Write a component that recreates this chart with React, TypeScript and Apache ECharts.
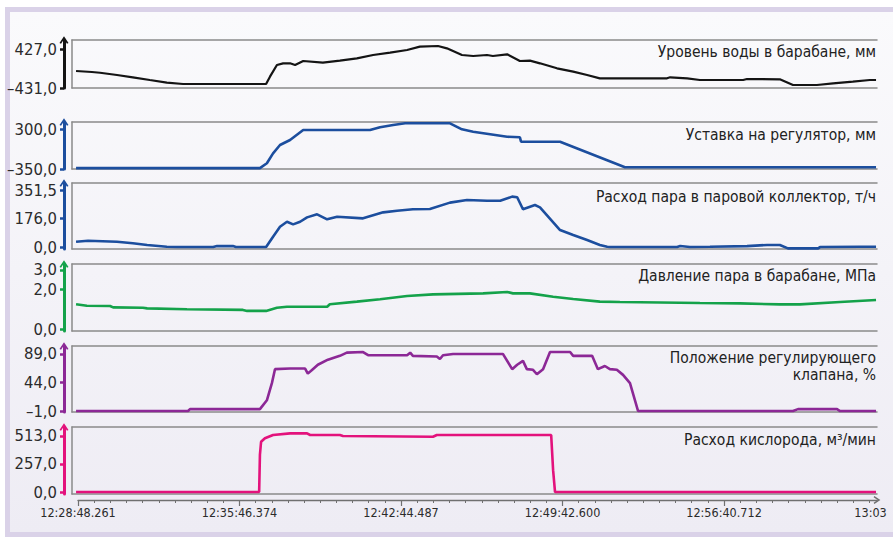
import React, { useEffect, useRef } from "react";
import * as echarts from "echarts";

// ---- x axis tick labels (time) ----
const timeLabels = ["12:28:48.261", "12:35:46.374", "12:42:44.487", "12:49:42.600", "12:56:40.712", "13:03"];

// ---- panel titles ----
const titles = [
  "Уровень воды в барабане, мм",
  "Уставка на регулятор, мм",
  "Расход пара в паровой коллектор, т/ч",
  "Давление пара в барабане, МПа",
  "Положение регулирующего\nклапана, %",
  "Расход кислорода, м³/мин",
];

// ---- y tick labels per panel ----
const yTicks = [
  [-431, 427],
  [-350, 300],
  [0, 176, 351.5],
  [0, 2, 3],
  [-1, 44, 89],
  [0, 257, 513],
];

// ---- series data: [seconds after 12:28:48.261, value] ----
const waterLevel: [number, number][] = [
  [-5, -57], [36, -79], [57, -95], [101, -145], [142, -196], [186, -255], [230, -313], [272, -343],
  [487, -343], [497, -182], [515, 75], [531, 112], [549, 112], [562, 75], [583, 163], [634, 126],
  [678, 170], [722, 222], [764, 295], [808, 346], [852, 405], [885, 478], [932, 493], [955, 442],
  [994, 295], [1023, 273], [1059, 295], [1074, 273], [1111, 310], [1144, 163], [1170, 170], [1196, 112],
  [1240, 2], [1282, -72], [1318, -145], [1351, -218], [1525, -218], [1533, -196], [1577, -218],
  [1610, -255], [1722, -255], [1732, -233], [1817, -240], [1851, -365], [1913, -365], [1955, -328],
  [2006, -292], [2050, -255], [2066, -255],
];

const setpoint: [number, number][] = [
  [-5, -335], [471, -335], [489, -257], [505, -95], [523, 40], [549, 121], [583, 284], [756, 284],
  [782, 328], [816, 365], [847, 393], [963, 393], [994, 295], [1023, 256], [1111, 175], [1144, 165],
  [1147, 94], [1248, 94], [1416, -322], [2066, -322],
];

const steamFlow: [number, number][] = [
  [-5, 33], [26, 39], [101, 33], [142, 23], [179, 13], [230, 2], [256, 0], [350, 0], [360, 6], [401, 6],
  [409, 0], [487, 0], [505, 64], [523, 125], [541, 156], [557, 140], [575, 156], [593, 183], [619, 202],
  [645, 171], [671, 187], [738, 177], [790, 214], [826, 224], [867, 233], [911, 235], [963, 274],
  [1007, 290], [1059, 286], [1093, 286], [1124, 311], [1137, 307], [1152, 233], [1183, 259], [1196, 245],
  [1248, 105], [1282, 74], [1318, 43], [1351, 13], [1370, 2], [1377, 0], [1551, 0], [1559, 6], [1584, 0],
  [1636, 2], [1732, 6], [1784, 13], [1817, 13], [1838, -8], [1916, -8], [1921, 0], [2025, 2], [2066, 2],
];

const drumPressure: [number, number][] = [
  [-5, 1.26], [23, 1.18], [83, 1.17], [91, 1.1], [168, 1.08], [179, 1.05], [282, 1.0], [427, 0.97],
  [438, 0.92], [487, 0.92], [515, 1.08], [541, 1.13], [645, 1.13], [652, 1.26], [722, 1.39], [782, 1.51],
  [852, 1.68], [919, 1.76], [1049, 1.81], [1111, 1.88], [1126, 1.81], [1170, 1.81], [1230, 1.64],
  [1282, 1.52], [1351, 1.39], [1403, 1.37], [1507, 1.35], [1610, 1.32], [1714, 1.3], [1817, 1.25],
  [1869, 1.25], [1973, 1.37], [2066, 1.47],
];

const valvePosition: [number, number][] = [
  [-5, -1], [285, -1], [290, 2], [471, 2], [489, 16], [502, 43], [510, 65], [549, 66], [588, 66],
  [595, 58], [608, 65], [621, 72], [647, 80], [678, 86], [696, 91], [738, 92], [751, 87], [852, 87],
  [860, 91], [867, 86], [929, 85], [937, 81], [945, 87], [971, 89], [1100, 89], [1124, 65], [1137, 72],
  [1152, 78], [1162, 65], [1178, 64], [1188, 57], [1204, 65], [1222, 92], [1274, 92], [1282, 86],
  [1331, 86], [1346, 65], [1364, 70], [1377, 65], [1395, 64], [1411, 56], [1429, 43], [1450, -1],
  [1851, -1], [1864, 2], [1965, 2], [1973, -1], [2066, -1],
];

const oxygenFlow: [number, number][] = [
  [-5, 0], [469, 0], [471, 340], [474, 460], [484, 492], [505, 522], [549, 537], [593, 537], [601, 522],
  [678, 522], [686, 513], [919, 506], [929, 522], [1225, 522], [1230, 200], [1235, 0], [2066, 0],
];

const seriesData = [waterLevel, setpoint, steamFlow, drumPressure, valvePosition, oxygenFlow];

// ---- styling / layout (kept apart from data) ----
const colors = ["#141414", "#1c4e9e", "#1c4e9e", "#14a24a", "#8c2896", "#e3127c"];
const yExtents = [
  [-431, 625],
  [-350, 414],
  [-12, 395],
  [-0.1, 3.3],
  [-2.5, 101.5],
  [-18, 595],
];
const panelTops = [40, 122, 183, 264, 346, 427];
const panelHeights = [48, 47, 66, 67, 66, 67];
const titleY = [52, 135, 197, 276, 366, 440];

const FONT = '"Liberation Sans Narrow", "DejaVu Sans Condensed", "Arial Narrow", sans-serif';
const BORDER = "#8a8a8a";
const ARROW = "path://M5,0 L10,7.5 L8.3,8.5 L5,3.5 L1.7,8.5 L0,7.5 Z";

function parseTime(s: string): number {
  const [hh, mm, ss] = s.split(":");
  return Number(hh) * 3600 + Number(mm) * 60 + (ss ? Number(ss) : 0);
}
const T0 = parseTime(timeLabels[0]);
const labelValues = timeLabels.map((l) => parseTime(l) - T0);
const majorStep = labelValues[1] - labelValues[0];
const X_MIN = -15.5;
const X_MAX = 2068.5;

function fmtNum(v: number) {
  const s = Math.abs(v).toFixed(1).replace(".", ",");
  return v < 0 ? "–" + s : s;
}

function buildOption() {
  const grid: any[] = [];
  const xAxis: any[] = [];
  const yAxis: any[] = [];
  const series: any[] = [];
  const hiddenBits = {
    axisTick: { show: false },
    axisLabel: { show: false },
    splitLine: { show: false },
  };

  seriesData.forEach((data, i) => {
    grid.push({ left: 72, right: 16, top: panelTops[i], height: panelHeights[i] });
    xAxis.push({
      type: "value", gridIndex: i, min: X_MIN, max: X_MAX, position: "bottom",
      axisLine: { show: true, onZero: false, lineStyle: { color: BORDER, width: 1.5 } },
      ...hiddenBits,
    });
    xAxis.push({
      type: "value", gridIndex: i, min: 0, max: 1, position: "top",
      axisLine: { show: true, onZero: false, lineStyle: { color: BORDER, width: 1.5 } },
      ...hiddenBits,
    });
    yAxis.push({
      type: "value", gridIndex: i, min: yExtents[i][0], max: yExtents[i][1], position: "left", offset: 8,
      axisLine: {
        show: true, onZero: false, symbol: ["none", ARROW], symbolSize: [9, 8],
        lineStyle: { color: colors[i], width: 3 },
      },
      axisTick: {
        show: true, inside: false, length: 4, customValues: yTicks[i],
        lineStyle: { color: colors[i], width: 2.5 },
      },
      axisLabel: {
        show: true, customValues: yTicks[i], formatter: fmtNum, margin: 7,
        color: "#2b2b2b", fontSize: 16.5, fontFamily: FONT,
      },
      splitLine: { show: false },
    });
    yAxis.push({
      type: "value", gridIndex: i, min: 0, max: 1, position: "left", offset: 0,
      axisLine: { show: true, onZero: false, lineStyle: { color: BORDER, width: 1.5 } },
      ...hiddenBits,
    });
    series.push({
      type: "line", xAxisIndex: 2 * i, yAxisIndex: 2 * i, data,
      showSymbol: false, symbol: "none", z: 3,
      lineStyle: { color: colors[i], width: i === 0 ? 2.2 : 2.6 },
    });
  });

  // time axis (minor ticks + line)
  const minorTicks: number[] = [];
  for (let v = 0; v <= X_MAX; v += majorStep / 10) minorTicks.push(v);
  const majorTicks = labelValues.slice(0, 5);

  grid.push({ left: 78, right: 16, top: 499, height: 1 });
  grid.push({ left: 78, right: 16, top: 499, height: 1 });
  xAxis.push({
    type: "value", gridIndex: 6, min: 0, max: X_MAX, position: "bottom",
    axisLine: {
      show: true, onZero: false, symbol: ["none", ARROW], symbolSize: [8, 8],
      lineStyle: { color: "#707070", width: 1.3 },
    },
    axisTick: { show: true, length: 3, customValues: minorTicks, lineStyle: { color: "#707070", width: 1 } },
    axisLabel: { show: false },
    splitLine: { show: false },
  });
  xAxis.push({
    type: "value", gridIndex: 7, min: 0, max: X_MAX, position: "bottom",
    axisLine: { show: false, onZero: false },
    axisTick: { show: true, length: 6, customValues: majorTicks, lineStyle: { color: "#707070", width: 1.2 } },
    axisLabel: {
      show: true, customValues: labelValues, margin: 6, color: "#2b2b2b", fontSize: 12.5, fontFamily: FONT,
      formatter: (v: number) => {
        let best = 0;
        labelValues.forEach((lv, k) => {
          if (Math.abs(lv - v) < Math.abs(labelValues[best] - v)) best = k;
        });
        return timeLabels[best];
      },
    },
    splitLine: { show: false },
  });
  yAxis.push({ type: "value", gridIndex: 6, show: false });
  yAxis.push({ type: "value", gridIndex: 7, show: false });

  const graphic = titles.map((t, i) => ({
    type: "text",
    x: 876,
    y: titleY[i],
    z: 100,
    style: {
      text: t, align: "right", verticalAlign: "middle", fill: "#222",
      fontSize: 15.5, fontFamily: FONT, lineHeight: 17,
    },
  }));

  return { animation: false, grid, xAxis, yAxis, series, graphic };
}

export default function App() {
  const ref = useRef<HTMLDivElement>(null);
  useEffect(() => {
    const chart = echarts.init(ref.current!, null, { renderer: "svg" });
    chart.setOption(buildOption() as any);
    return () => chart.dispose();
  }, []);
  return (
    <div style={{ position: "fixed", left: 0, top: 0, width: 893, height: 537, overflow: "hidden", background: "#fff" }}>
      <div
        style={{
          position: "absolute", left: 5, top: 7, width: 900, height: 530, boxSizing: "border-box",
          border: "5px solid #dad2e8", background: "linear-gradient(#fafafc, #eeecf4)",
        }}
      />
      <div ref={ref} style={{ position: "absolute", left: 0, top: 0, width: 893, height: 537 }} />
    </div>
  );
}
